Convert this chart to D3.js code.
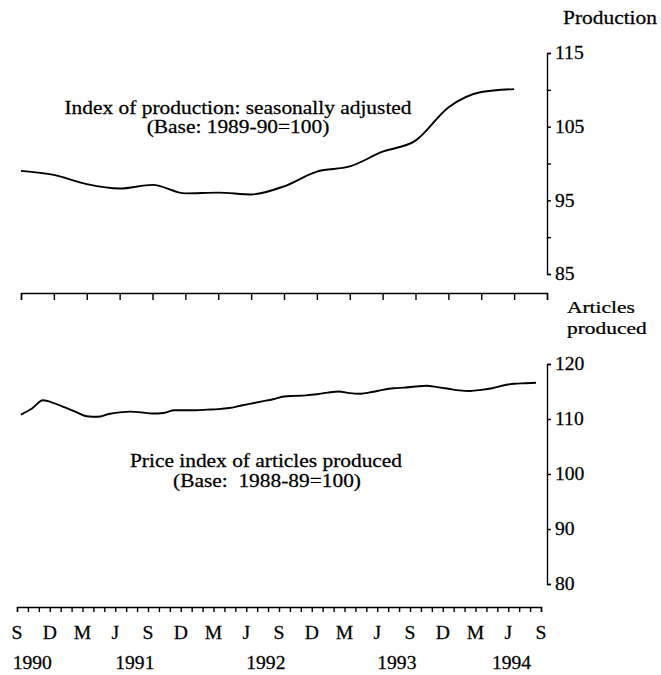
<!DOCTYPE html>
<html><head><meta charset="utf-8">
<script src="https://cdn.jsdelivr.net/npm/d3@7"></script>
<style>
body{margin:0;background:#fff}
svg{display:block}
text{font-family:"Liberation Serif","Times New Roman",serif;fill:#000;stroke:#000;stroke-width:0.25px}
</style>
</head><body><svg id="c" width="661" height="675"></svg>
<script>
// ---- data ----
const quarterLabels = ["S","D","M","J","S","D","M","J","S","D","M","J","S","D","M","J","S"];
const quarterMonths = [0,3,6,9,12,15,18,21,24,27,30,33,36,39,42,45,48];
const yearLabels = ["1990","1991","1992","1993","1994"];
const yearLabelMonths = [-0.4, 9, 21, 33, 43.5];
const monthTicks = [0,1,2,3,4,5,6,7,8,9,10,11,12,13,14,15,16,17,18,19,20,21,22,23,24,25,26,27,28,29,30,31,32,33,34,35,36,37,38,39,40,41,42,43,44,45,46,47,48];

// Index of production (quarterly, Sep 1990 - Jun 1994)
const productionMonths = [0,3,6,9,12,15,18,21,24,27,30,33,36,39,42,45];
const productionValues = [99.0,98.45,97.2,96.6,97.1,95.95,96.05,95.8,96.9,98.9,99.6,101.6,103.1,107.6,109.7,110.1];

// Price index of articles produced (monthly, Sep 1990 - Aug 1994)
const priceMonths = [0,1,2,3,4,5,6,7,8,9,10,11,12,13,14,15,16,17,18,19,20,21,22,23,24,25,26,27,28,29,30,31,32,33,34,35,36,37,38,39,40,41,42,43,44,45,46,47];
const priceValues = [110.8,111.9,113.4,112.9,112.1,111.3,110.5,110.4,110.9,111.2,111.35,111.2,
  111.0,111.1,111.6,111.6,111.6,111.7,111.8,112.0,112.4,112.8,113.2,113.6,
  114.1,114.2,114.3,114.5,114.8,115.0,114.7,114.6,114.9,115.3,115.6,115.7,
  115.9,116.05,115.8,115.5,115.2,115.1,115.3,115.6,116.1,116.4,116.5,116.6];

const productionTicks = [85,90,95,100,105,110,115];
const productionTickLabels = [85,95,105,115];
const priceTicks = [80,90,100,110,120];

// ---- drawing ----
const svg = d3.select("#c");
const FS = 18;
const AX = 1.09, ANN = 1.19; // horizontal stretch of scanned type

const xData = d3.scaleLinear().domain([0,48]).range([21,547]);
const xBottom = d3.scaleLinear().domain([0,48]).range([17,541]);
const yTop = d3.scaleLinear().domain([85,115]).range([274,53]);
const yBot = d3.scaleLinear().domain([80,120]).range([584,364]);

function styleAxis(g){
  g.selectAll("path,line").attr("stroke","#000").attr("stroke-width",1.4);
  g.selectAll("text").attr("font-size",FS).attr("fill","#000")
    .attr("font-family",'"Liberation Serif","Times New Roman",serif');
}

// top y axis
const gTopY = svg.append("g").attr("transform","translate(547,0)")
  .call(d3.axisRight(yTop).tickValues(productionTicks).tickSize(4).tickSizeOuter(4)
    .tickFormat(d => productionTickLabels.includes(d) ? d : ""));
styleAxis(gTopY);
gTopY.selectAll("text").attr("x",0).attr("transform",`translate(8,0) scale(${AX},1)`);

// bottom y axis
const gBotY = svg.append("g").attr("transform","translate(547,0)")
  .call(d3.axisRight(yBot).tickValues(priceTicks).tickSize(4).tickSizeOuter(4));
styleAxis(gBotY);
gBotY.selectAll("text").attr("x",0).attr("transform",`translate(8,0) scale(${AX},1)`);

// top x axis (quarterly ticks)
const gTopX = svg.append("g").attr("transform","translate(0,293)")
  .call(d3.axisBottom(xData).tickValues(quarterMonths).tickSize(7).tickSizeOuter(7).tickFormat(""));
styleAxis(gTopX);

// bottom x axis (monthly ticks)
const gBotX = svg.append("g").attr("transform","translate(0,607)")
  .call(d3.axisBottom(xBottom).tickValues(monthTicks).tickSize(5).tickSizeOuter(5).tickFormat(""));
styleAxis(gBotX);

// quarter letters
svg.append("g").selectAll("text").data(quarterLabels).join("text")
  .attr("text-anchor","middle").attr("font-size",FS)
  .attr("transform",(d,i)=>`translate(${xBottom(quarterMonths[i])},639) scale(${AX},1)`)
  .text(d=>d);
// year labels
svg.append("g").selectAll("text").data(yearLabels).join("text")
  .attr("text-anchor","start").attr("font-size",FS)
  .attr("transform",(d,i)=>`translate(${xBottom(yearLabelMonths[i])},669) scale(${AX},1)`)
  .text(d=>d);

// lines
const topLine = d3.line().x((d,i)=>xData(productionMonths[i])).y(d=>yTop(d)).curve(d3.curveMonotoneX);
svg.append("path").datum(productionValues).attr("d",topLine)
  .attr("fill","none").attr("stroke","#000").attr("stroke-width",1.9).attr("stroke-linejoin","round");
const botLine = d3.line().x((d,i)=>xData(priceMonths[i])).y(d=>yBot(d)).curve(d3.curveMonotoneX);
svg.append("path").datum(priceValues).attr("d",botLine)
  .attr("fill","none").attr("stroke","#000").attr("stroke-width",1.9).attr("stroke-linejoin","round");

// annotations
function label(txt,x,y,anchor,k,fs){
  svg.append("text").attr("text-anchor",anchor).attr("font-size",fs||FS)
    .style("white-space","pre")
    .attr("transform",`translate(${x},${y}) scale(${k},1)`).text(txt);
}
label("Production",563,24,"start",ANN);
label("Articles",567,313,"start",1.26,17);
label("produced",567,334,"start",1.26,17);
label("Index of production: seasonally adjusted",238,114,"middle",ANN);
label("(Base: 1989-90=100)",238,133,"middle",ANN);
label("Price index of articles produced",266,467,"middle",ANN);
label("(Base:  1988-89=100)",267,487,"middle",ANN);
</script>
</body></html>
